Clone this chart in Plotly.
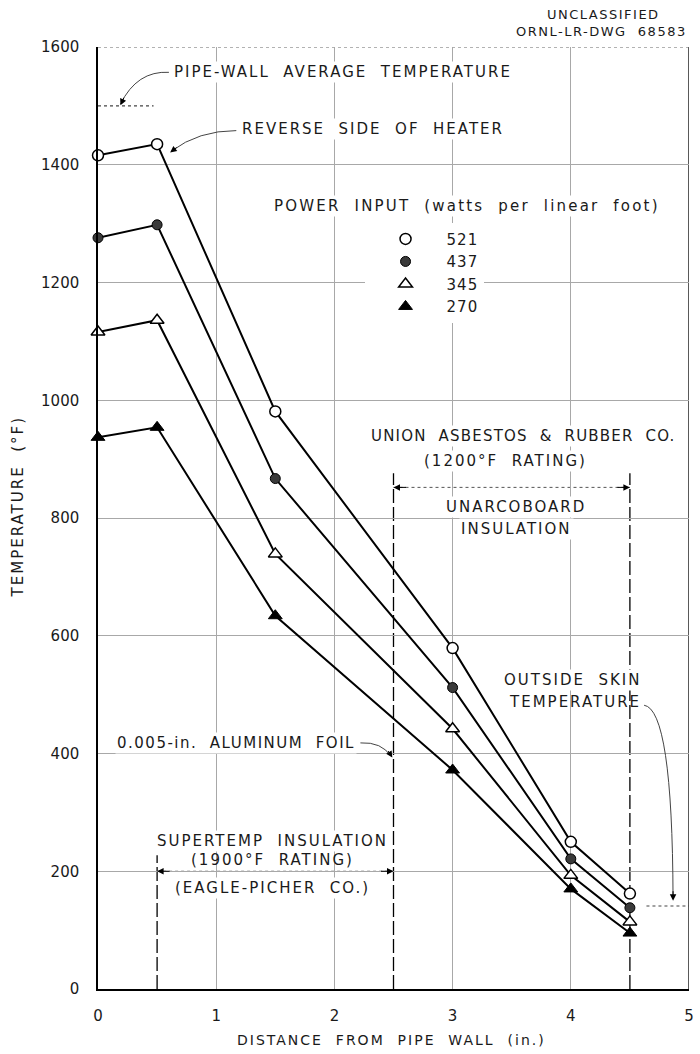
import plotly.graph_objects as go

# ---- data ----
distance = [0, 0.5, 1.5, 3, 4, 4.5]          # in. from pipe wall
t521 = [1416, 1435, 981, 579, 250, 162]      # degF
t437 = [1276, 1298, 867, 512, 221, 138]
t345 = [1116, 1136, 739, 442, 193, 114]
t270 = [937, 954, 634, 372, 170, 95]
series_names = ["521", "437", "345", "270"]
series_values = [t521, t437, t345, t270]
x_ticks = [0, 1, 2, 3, 4, 5]
y_ticks = [0, 200, 400, 600, 800, 1000, 1200, 1400, 1600]

FONT = "DejaVu Sans"
LS = "letter-spacing:2px"
INK = "#1a1a1a"

def sp(txt, ls=LS):
    return '<span style="%s">%s</span>' % (ls, txt)

marker_styles = [
    dict(symbol="circle", size=11, color="white", line=dict(color="black", width=1.5)),
    dict(symbol="circle", size=10, color="#3a3a3a", line=dict(color="black", width=1)),
    dict(symbol="triangle-up", size=12, color="white", line=dict(color="black", width=1.5)),
    dict(symbol="triangle-up", size=12, color="black", line=dict(color="black", width=1)),
]

fig = go.Figure()
for name, vals, ms in zip(series_names, series_values, marker_styles):
    fig.add_trace(go.Scatter(x=distance, y=vals, mode="lines+markers",
                             line=dict(color="black", width=2), marker=ms,
                             showlegend=False, hoverinfo="skip", cliponaxis=False))
for name, ms in zip(series_names, marker_styles):
    fig.add_trace(go.Scatter(x=[None], y=[None], mode="markers", marker=ms,
                             name=sp(name, "letter-spacing:1px"), showlegend=True))

shapes = []
def vline(x, y0, y1, dash="14px,4px", color="black", width=1.3):
    shapes.append(dict(type="line", xref="x", yref="y", x0=x, x1=x, y0=y0, y1=y1,
                       line=dict(color=color, width=width, dash=dash), layer="below"))
def hline(y, x0, x1, dash="dot", color="#555", width=1):
    shapes.append(dict(type="line", xref="x", yref="y", x0=x0, x1=x1, y0=y, y1=y,
                       line=dict(color=color, width=width, dash=dash), layer="below"))
def curve(path):
    shapes.append(dict(type="path", xref="x", yref="y", path=path,
                       line=dict(color="#444", width=1)))

# frame
vline(5, 0, 1600, dash="solid", color="black", width=1.3)
hline(1600, 0, 5, dash="dot", color="#666", width=1)
# insulation boundaries
vline(0.5, 0, 227)
vline(2.5, 0, 876)
vline(4.5, 0, 876)
# pipe-wall average temperature level, outside skin level
hline(1500, 0, 0.47, dash="dot", color="#444", width=1.2)
hline(141, 4.64, 5, dash="dot", color="#444", width=1.2)
# dimension lines
hline(852, 2.5, 4.5, dash="dot", color="#555", width=1)
hline(200, 0.5, 2.5, dash="dot", color="#555", width=1)
# curved leaders
curve("M 0.6,1557 Q 0.33,1560 0.19,1503")
curve("M 1.17,1458 Q 0.85,1458 0.62,1423")
curve("M 2.22,418 Q 2.4,420 2.48,395")
curve("M 4.62,482 Q 4.86,475 4.865,155")

ann = []
def text(x, y, t, xanchor="center", size=15, ls=LS, bg="white"):
    ann.append(dict(x=x, y=y, xref="x", yref="y", text=sp(t, ls), showarrow=False,
                    xanchor=xanchor, yanchor="middle", bgcolor=bg, borderpad=1,
                    font=dict(family=FONT, size=size, color=INK)))
def head(x, y, ax, ay):
    ann.append(dict(x=x, y=y, xref="x", yref="y", text="", showarrow=True,
                    arrowhead=2, arrowsize=1.3, arrowwidth=1, arrowcolor="black",
                    ax=ax, ay=ay))

text(0.63, 1558, "PIPE-WALL\u00a0 AVERAGE\u00a0 TEMPERATURE", xanchor="left")
text(1.2, 1460, "REVERSE\u00a0 SIDE\u00a0 OF\u00a0 HEATER", xanchor="left")
text(1.475, 1330, "POWER\u00a0 INPUT\u00a0 (watts\u00a0 per\u00a0 linear\u00a0 foot)", xanchor="left",
     ls="letter-spacing:2.2px")
text(3.6, 940, "UNION\u00a0 ASBESTOS\u00a0 &amp;\u00a0 RUBBER\u00a0 CO.", ls="letter-spacing:1.2px")
text(3.45, 896, "(1200°F\u00a0 RATING)")
text(3.54, 818, "UNARCOBOARD")
text(3.54, 782, "INSULATION")
text(4.61, 525, "OUTSIDE\u00a0 SKIN", xanchor="right")
text(4.61, 488, "TEMPERATURE", xanchor="right", bg="rgba(0,0,0,0)")
text(2.19, 418, "0.005-in.\u00a0 ALUMINUM\u00a0 FOIL", xanchor="right", ls="letter-spacing:1.5px")
text(1.475, 252, "SUPERTEMP\u00a0 INSULATION")
text(1.475, 219, "(1900°F\u00a0 RATING)", bg="rgba(0,0,0,0)")
text(1.475, 172, "(EAGLE-PICHER\u00a0 CO.)")

head(0.19, 1501, 4, -9)
head(0.61, 1421, 8, -6)
head(2.49, 393, -5, -8)
head(4.865, 150, 0, -11)
head(0.5, 200, 14, 0)
head(2.5, 200, -14, 0)
head(2.5, 852, 14, 0)
head(4.5, 852, -14, 0)

# header and axis titles
ann.append(dict(x=0.855, y=1.035, xref="paper", yref="paper", showarrow=False,
                text=sp("UNCLASSIFIED", "letter-spacing:1.5px"), xanchor="center", yanchor="middle",
                font=dict(family=FONT, size=13, color=INK)))
ann.append(dict(x=0.852, y=1.016, xref="paper", yref="paper", showarrow=False,
                text=sp("ORNL-LR-DWG\u00a0 68583", "letter-spacing:1.5px"), xanchor="center", yanchor="middle",
                font=dict(family=FONT, size=13, color=INK)))
ann.append(dict(x=0, y=818, xref="paper", yref="y", xshift=-80, showarrow=False,
                text=sp("TEMPERATURE\u00a0 (°F)", "letter-spacing:2px"), textangle=-90,
                xanchor="center", yanchor="middle",
                font=dict(family=FONT, size=15, color=INK)))
ann.append(dict(x=2.48, y=0, xref="x", yref="paper", yshift=-51, showarrow=False,
                text=sp("DISTANCE\u00a0 FROM\u00a0 PIPE\u00a0 WALL\u00a0 (in.)", "letter-spacing:2px"),
                xanchor="center", yanchor="middle",
                font=dict(family=FONT, size=14, color=INK)))

axis_common = dict(showgrid=True, gridcolor="#a8a8a8", gridwidth=1, zeroline=False,
                   showline=True, linecolor="black", linewidth=1.5, ticks="",
                   tickfont=dict(family=FONT, size=15, color=INK), fixedrange=True)

fig.update_layout(
    width=700, height=1054,
    margin=dict(l=98, r=6, t=47, b=65),
    paper_bgcolor="white", plot_bgcolor="white",
    xaxis=dict(range=[0, 5], tickvals=x_ticks, ticklabelstandoff=12, **axis_common),
    yaxis=dict(range=[0, 1600], tickvals=y_ticks, ticklabelstandoff=14, **axis_common),
    shapes=shapes, annotations=ann,
    legend=dict(x=0.451, y=0.8135, xanchor="left", yanchor="top", bgcolor="white",
                itemwidth=72, font=dict(family=FONT, size=15, color=INK),
                tracegroupgap=0),
)

fig.write_html("out.html")
